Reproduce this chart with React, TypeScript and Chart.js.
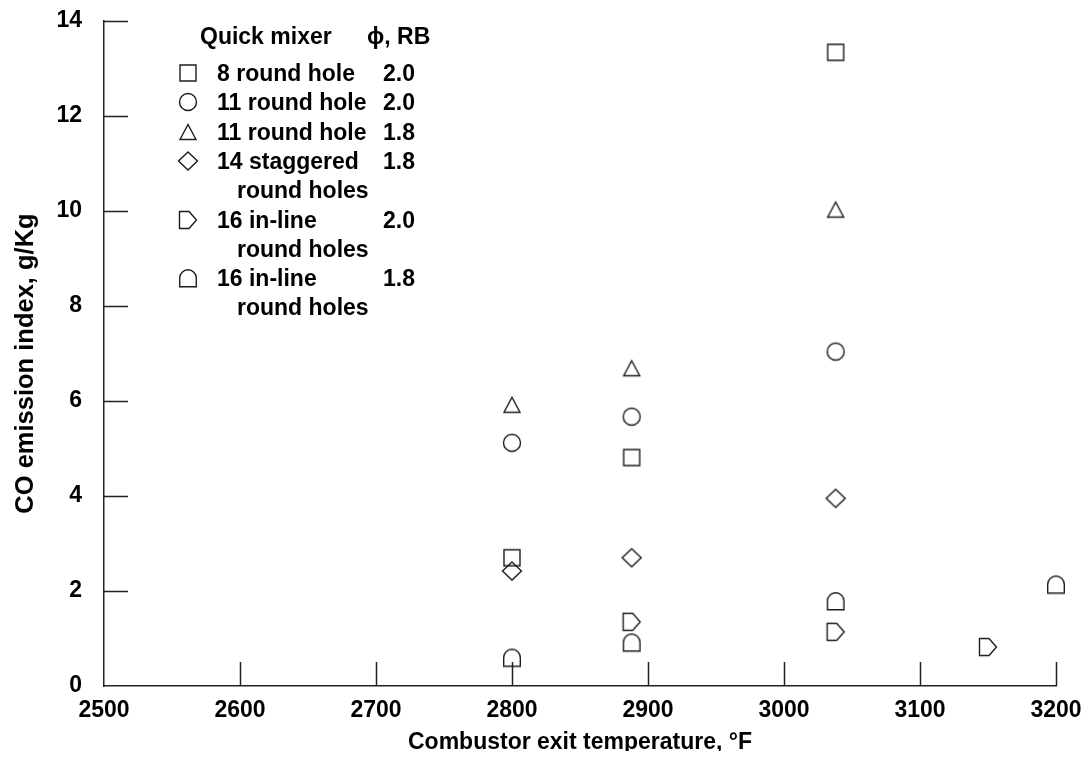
import { useEffect, useRef } from "react";
import { Chart, registerables } from "chart.js";

Chart.register(...registerables);

// Axis ranges and tick steps
const tempMin = 2500;
const tempMax = 3200;
const tempStep = 100;
const coMin = 0;
const coMax = 14;
const coStep = 2;

// Series: combustor exit temperature (°F) and CO emission index (g/Kg)
const roundHole8Temp = [2800, 2888, 3038];
const roundHole8CO = [2.7, 4.81, 13.34];

const roundHole11Phi20Temp = [2800, 2888, 3038];
const roundHole11Phi20CO = [5.12, 5.67, 7.04];

const roundHole11Phi18Temp = [2800, 2888, 3038];
const roundHole11Phi18CO = [5.92, 6.69, 10.03];

const staggered14Temp = [2800, 2888, 3038];
const staggered14CO = [2.42, 2.7, 3.95];

const inline16Phi20Temp = [2888, 3038, 3150];
const inline16Phi20CO = [1.35, 1.14, 0.82];

const inline16Phi18Temp = [2800, 2888, 3038, 3200];
const inline16Phi18CO = [0.6, 0.92, 1.79, 2.14];

// Legend text
const legendHeader = ["Quick mixer", "\u03D5, RB"];
const mixerNames = [
  ["8 round hole"],
  ["11 round hole"],
  ["11 round hole"],
  ["14 staggered", "round holes"],
  ["16 in-line", "round holes"],
  ["16 in-line", "round holes"],
];
const phiValues = ["2.0", "2.0", "1.8", "1.8", "2.0", "1.8"];

const xTitle = "Combustor exit temperature, \u00B0F";
const yTitle = "CO emission index, g/Kg";

const FONT = "'Liberation Sans', Arial, Helvetica, 'DejaVu Sans', sans-serif";
const INK = "#1c1c1c";

const CANVAS_W = 1073;
const CANVAS_H = 751;

type MarkerKind = "square" | "circle" | "triangle" | "diamond" | "pentagon" | "dome";
const markerKinds: MarkerKind[] = ["square", "circle", "triangle", "diamond", "pentagon", "dome"];

function makeMarker(kind: MarkerKind): HTMLCanvasElement {
  const size = 24;
  const c = document.createElement("canvas");
  c.width = size;
  c.height = size;
  const g = c.getContext("2d")!;
  g.strokeStyle = INK;
  g.lineWidth = 1.4;
  g.beginPath();
  switch (kind) {
    case "square":
      g.rect(4, 4, 16, 16);
      break;
    case "circle":
      g.arc(12, 12, 8.5, 0, Math.PI * 2);
      break;
    case "triangle":
      g.moveTo(12, 4.5);
      g.lineTo(20, 19.5);
      g.lineTo(4, 19.5);
      g.closePath();
      break;
    case "diamond":
      g.moveTo(12, 3);
      g.lineTo(21.5, 12);
      g.lineTo(12, 21);
      g.lineTo(2.5, 12);
      g.closePath();
      break;
    case "pentagon":
      g.moveTo(3.5, 3.5);
      g.lineTo(13, 3.5);
      g.lineTo(20.5, 12);
      g.lineTo(13, 20.5);
      g.lineTo(3.5, 20.5);
      g.closePath();
      break;
    case "dome":
      g.moveTo(3.7, 20.8);
      g.lineTo(3.7, 12);
      g.arc(12, 12, 8.3, Math.PI, 0);
      g.lineTo(20.3, 20.8);
      g.closePath();
      break;
  }
  g.stroke();
  return c;
}

export default function App() {
  const canvasRef = useRef<HTMLCanvasElement | null>(null);

  useEffect(() => {
    const canvas = canvasRef.current;
    if (!canvas) return;

    const markers = markerKinds.map(makeMarker);
    const seriesTemps = [
      roundHole8Temp,
      roundHole11Phi20Temp,
      roundHole11Phi18Temp,
      staggered14Temp,
      inline16Phi20Temp,
      inline16Phi18Temp,
    ];
    const seriesCO = [
      roundHole8CO,
      roundHole11Phi20CO,
      roundHole11Phi18CO,
      staggered14CO,
      inline16Phi20CO,
      inline16Phi18CO,
    ];

    const datasets = seriesTemps.map((temps, i) => ({
      label: `${mixerNames[i].join(" ")} ${phiValues[i]}`,
      data: temps.map((t, j) => ({ x: t, y: seriesCO[i][j] })),
      pointStyle: markers[i],
      pointRadius: 9,
      showLine: false,
      clip: false,
      borderColor: INK,
      backgroundColor: "transparent",
    }));

    // Tick marks that point into the plot area
    const innerTicks = {
      id: "innerTicks",
      beforeDatasetsDraw(chart: any) {
        const { ctx, chartArea, scales } = chart;
        ctx.save();
        ctx.strokeStyle = "#222";
        ctx.lineWidth = 1.5;
        ctx.beginPath();
        for (const t of scales.y.ticks) {
          if (t.value === coMin) continue;
          const py = Math.round(scales.y.getPixelForValue(t.value)) + 0.5;
          ctx.moveTo(chartArea.left, py);
          ctx.lineTo(chartArea.left + 24, py);
        }
        for (const t of scales.x.ticks) {
          if (t.value === tempMin) continue;
          const px = Math.round(scales.x.getPixelForValue(t.value)) + 0.5;
          ctx.moveTo(px, chartArea.bottom);
          ctx.lineTo(px, chartArea.bottom - 24);
        }
        ctx.stroke();
        ctx.restore();
      },
    };

    // Key in the upper-left corner and the vertical axis title
    const keyAndTitle = {
      id: "keyAndTitle",
      afterDraw(chart: any) {
        const { ctx, chartArea } = chart;
        ctx.save();
        ctx.fillStyle = "#000";
        ctx.font = `bold 23px ${FONT}`;
        ctx.textAlign = "left";
        ctx.textBaseline = "alphabetic";

        const nameX = 192;
        const phiX = 359;
        ctx.fillText(legendHeader[0], nameX, 35.5);
        ctx.fillText(legendHeader[1], phiX, 35.5);

        const symX = 180;
        const textX = 209;
        const wrapX = 229;
        const valX = 375;
        const step = 29.3;
        let baseline = 73;
        mixerNames.forEach((lines, i) => {
          const m = markers[i];
          ctx.drawImage(m, Math.round(symX - m.width / 2), Math.round(baseline - 8 - m.height / 2));
          lines.forEach((line, k) => {
            ctx.fillText(line, k === 0 ? textX : wrapX, baseline);
            if (k === 0) ctx.fillText(phiValues[i], valX, baseline);
            baseline += step;
          });
        });

        // Vertical axis title
        ctx.font = `bold 25.5px ${FONT}`;
        ctx.textAlign = "center";
        ctx.translate(25, (chartArea.top + chartArea.bottom) / 2 + 10);
        ctx.rotate(-Math.PI / 2);
        ctx.fillText(yTitle, 0, 0);
        ctx.restore();
      },
    };

    const tickFont = { family: FONT, size: 23, weight: "bold" as const };

    const chart = new Chart(canvas, {
      type: "scatter",
      data: { datasets },
      options: {
        animation: false,
        responsive: false,
        devicePixelRatio: 1,
        layout: { padding: { top: 13, right: 25, bottom: 0, left: 0 } },
        plugins: {
          legend: { display: false },
          tooltip: { enabled: false },
        },
        scales: {
          x: {
            type: "linear",
            min: tempMin,
            max: tempMax,
            grid: { display: false, drawTicks: false },
            border: { display: true, color: "#222", width: 1.5 },
            ticks: {
              stepSize: tempStep,
              padding: 11,
              color: "#000",
              font: tickFont,
              maxRotation: 0,
              autoSkip: false,
              callback: (v: any) => String(v),
            },
            title: {
              display: true,
              text: xTitle,
              color: "#000",
              font: { family: FONT, size: 23, weight: "bold", lineHeight: 1.2 },
              padding: { top: 0, bottom: 3 },
            },
            afterFit(scale: any) {
              scale.height = 73;
              scale.paddingRight = 25;
            },
          },
          y: {
            type: "linear",
            min: coMin,
            max: coMax,
            grid: { display: false, drawTicks: false },
            border: { display: true, color: "#222", width: 1.5 },
            ticks: {
              stepSize: coStep,
              padding: 22,
              color: "#000",
              font: tickFont,
              callback: (v: any) => String(v),
            },
            afterFit(scale: any) {
              scale.width = 96;
              scale.paddingTop = 0;
              scale.paddingBottom = 0;
            },
          },
        },
      },
      plugins: [innerTicks, keyAndTitle],
    } as any);

    return () => chart.destroy();
  }, []);

  return (
    <canvas
      ref={canvasRef}
      width={CANVAS_W}
      height={CANVAS_H}
      style={{ display: "block", width: CANVAS_W, height: CANVAS_H, marginBottom: -8 }}
    />
  );
}
